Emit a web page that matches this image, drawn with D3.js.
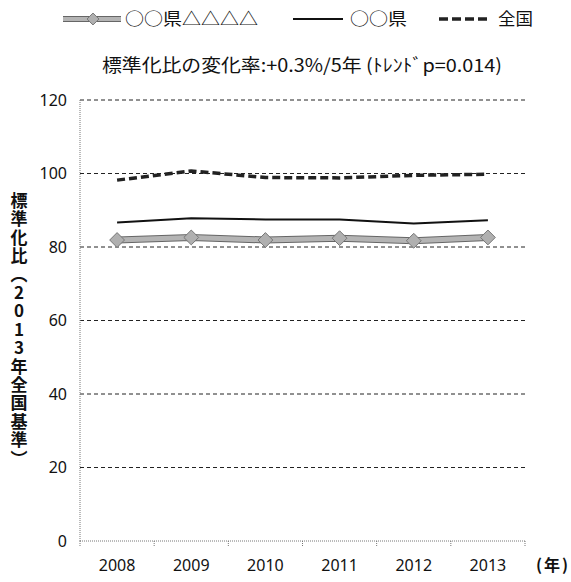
<!DOCTYPE html>
<html>
<head>
<meta charset="utf-8">
<script src="https://cdn.jsdelivr.net/npm/d3@7"></script>
<style>
  body { margin: 0; background: #fff; }
  svg { display: block; }
  .jp { font-family: "Noto Sans CJK JP", sans-serif; }
  .num { font-family: "Noto Sans", "Open Sans", sans-serif; }
</style>
</head>
<body>
<div id="chart"></div>
<script>
const years = ['2008', '2009', '2010', '2011', '2012', '2013'];
const cityValues = [81.9, 82.6, 81.9, 82.4, 81.7, 82.6];
const prefValues = [86.7, 87.8, 87.5, 87.5, 86.4, 87.3];
const nationValues = [98.2, 100.7, 98.9, 98.8, 99.5, 99.8];
const yTicks = [0, 20, 40, 60, 80, 100, 120];
const seriesNames = ['○○県△△△△', '○○県', '全国'];

const W = 571, H = 582;
const margin = { top: 100, right: 46, bottom: 41, left: 80 };
const width = W - margin.left - margin.right;
const height = H - margin.top - margin.bottom;

const svg = d3.select('#chart').append('svg')
    .attr('width', W)
    .attr('height', H);

const g = svg.append('g')
    .attr('transform', `translate(${margin.left},${margin.top})`);

const x = d3.scaleBand().domain(years).range([0, width]);
const y = d3.scaleLinear().domain([0, 120]).range([height, 0]);
const cx = d => x(d) + x.bandwidth() / 2;

// gridlines
g.selectAll('.grid')
    .data(yTicks.filter(t => t > 0))
    .join('line')
    .attr('x1', 0).attr('x2', width)
    .attr('y1', d => y(d)).attr('y2', d => y(d))
    .attr('stroke', '#222')
    .attr('stroke-width', 1)
    .attr('stroke-dasharray', '4,3');

// y axis (dotted)
g.append('line')
    .attr('x1', 0).attr('x2', 0)
    .attr('y1', 0).attr('y2', height)
    .attr('stroke', '#777')
    .attr('stroke-dasharray', '1,1');

// x axis
const xAxis = g.append('g')
    .attr('transform', `translate(0,${height})`);
xAxis.append('line')
    .attr('x1', 0).attr('x2', width)
    .attr('stroke', '#777')
    .attr('stroke-dasharray', '1,1');
xAxis.selectAll('.tk')
    .data(years.map(d => x(d)).concat([width]))
    .join('line')
    .attr('x1', d => d).attr('x2', d => d)
    .attr('y1', 0).attr('y2', 5)
    .attr('stroke', '#777')
    .attr('stroke-dasharray', '1,1');
xAxis.selectAll('.xl')
    .data(years)
    .join('text')
    .attr('class', 'num')
    .attr('x', d => cx(d))
    .attr('y', 30)
    .attr('text-anchor', 'middle')
    .attr('font-size', 16)
    .attr('fill', '#111')
    .text(d => d);

// y tick labels
g.selectAll('.yl')
    .data(yTicks)
    .join('text')
    .attr('class', 'num')
    .attr('x', -13)
    .attr('y', d => y(d))
    .attr('dy', '0.35em')
    .attr('text-anchor', 'end')
    .attr('font-size', 16)
    .attr('fill', '#111')
    .text(d => d);

// unit label
svg.append('text')
    .attr('class', 'jp')
    .attr('x', 536)
    .attr('y', 571)
    .attr('font-size', 16)
    .attr('font-weight', 'bold')
    .style('letter-spacing', '2px')
    .attr('fill', '#111')
    .text('(年)');

// y axis title (vertical)
svg.append('text')
    .attr('class', 'jp')
    .attr('x', 19)
    .attr('y', 192)
    .attr('font-size', 17)
    .attr('font-weight', 'bold')
    .attr('fill', '#111')
    .style('writing-mode', 'vertical-rl')
    .style('text-orientation', 'upright')
    .style('letter-spacing', '1.4px')
    .text('標準化比（2013年全国基準）');

const line = d3.line().x((d, i) => cx(years[i])).y(d => y(d));

// national (dashed thick)
g.append('path')
    .datum(nationValues)
    .attr('d', line)
    .attr('fill', 'none')
    .attr('stroke', '#222')
    .attr('stroke-width', 3.5)
    .attr('stroke-dasharray', '8,4');

// prefecture (solid)
g.append('path')
    .datum(prefValues)
    .attr('d', line)
    .attr('fill', 'none')
    .attr('stroke', '#111')
    .attr('stroke-width', 2);

// city (thick gray w/ diamonds)
g.append('path')
    .datum(cityValues)
    .attr('d', line)
    .attr('fill', 'none')
    .attr('stroke', '#666')
    .attr('stroke-width', 7);
g.append('path')
    .datum(cityValues)
    .attr('d', line)
    .attr('fill', 'none')
    .attr('stroke', '#b4b4b4')
    .attr('stroke-width', 5);

const diamond = d3.symbol().type(d3.symbolDiamond2).size(140);
g.selectAll('.dm')
    .data(cityValues)
    .join('path')
    .attr('transform', (d, i) => `translate(${cx(years[i])},${y(d)})`)
    .attr('d', diamond)
    .attr('fill', '#b0b0b0')
    .attr('stroke', '#777')
    .attr('stroke-width', 1);

// legend
const lg = svg.append('g').attr('transform', 'translate(0,19)');
lg.append('line').attr('x1', 63).attr('x2', 121)
    .attr('stroke', '#666').attr('stroke-width', 6);
lg.append('line').attr('x1', 63).attr('x2', 121)
    .attr('stroke', '#b4b4b4').attr('stroke-width', 4);
lg.append('path').attr('transform', 'translate(93,0)')
    .attr('d', d3.symbol().type(d3.symbolDiamond2).size(90))
    .attr('fill', '#b0b0b0').attr('stroke', '#777');
lg.append('line').attr('x1', 293).attr('x2', 343)
    .attr('stroke', '#111').attr('stroke-width', 2);
lg.append('line').attr('x1', 439).attr('x2', 490)
    .attr('stroke', '#222').attr('stroke-width', 3.5)
    .attr('stroke-dasharray', '9,4');
const legendX = [125, 350, 498];
const legendLen = [133, 57, 35];
lg.selectAll('.lt')
    .data(seriesNames)
    .join('text')
    .attr('class', 'jp')
    .attr('x', (d, i) => legendX[i])
    .attr('y', 0)
    .attr('dy', '0.36em')
    .attr('font-size', 17)
    .attr('textLength', (d, i) => legendLen[i])
    .attr('lengthAdjust', 'spacingAndGlyphs')
    .attr('fill', '#111')
    .text(d => d);

// title
svg.append('text')
    .attr('class', 'jp')
    .attr('x', 102)
    .attr('y', 66)
    .attr('dy', '0.35em')
    .attr('font-size', 18)
    .attr('textLength', 400)
    .attr('lengthAdjust', 'spacingAndGlyphs')
    .attr('fill', '#111')
    .text('標準化比の変化率:+0.3%/5年 (ﾄﾚﾝﾄﾞp=0.014)');
</script>
</body>
</html>
